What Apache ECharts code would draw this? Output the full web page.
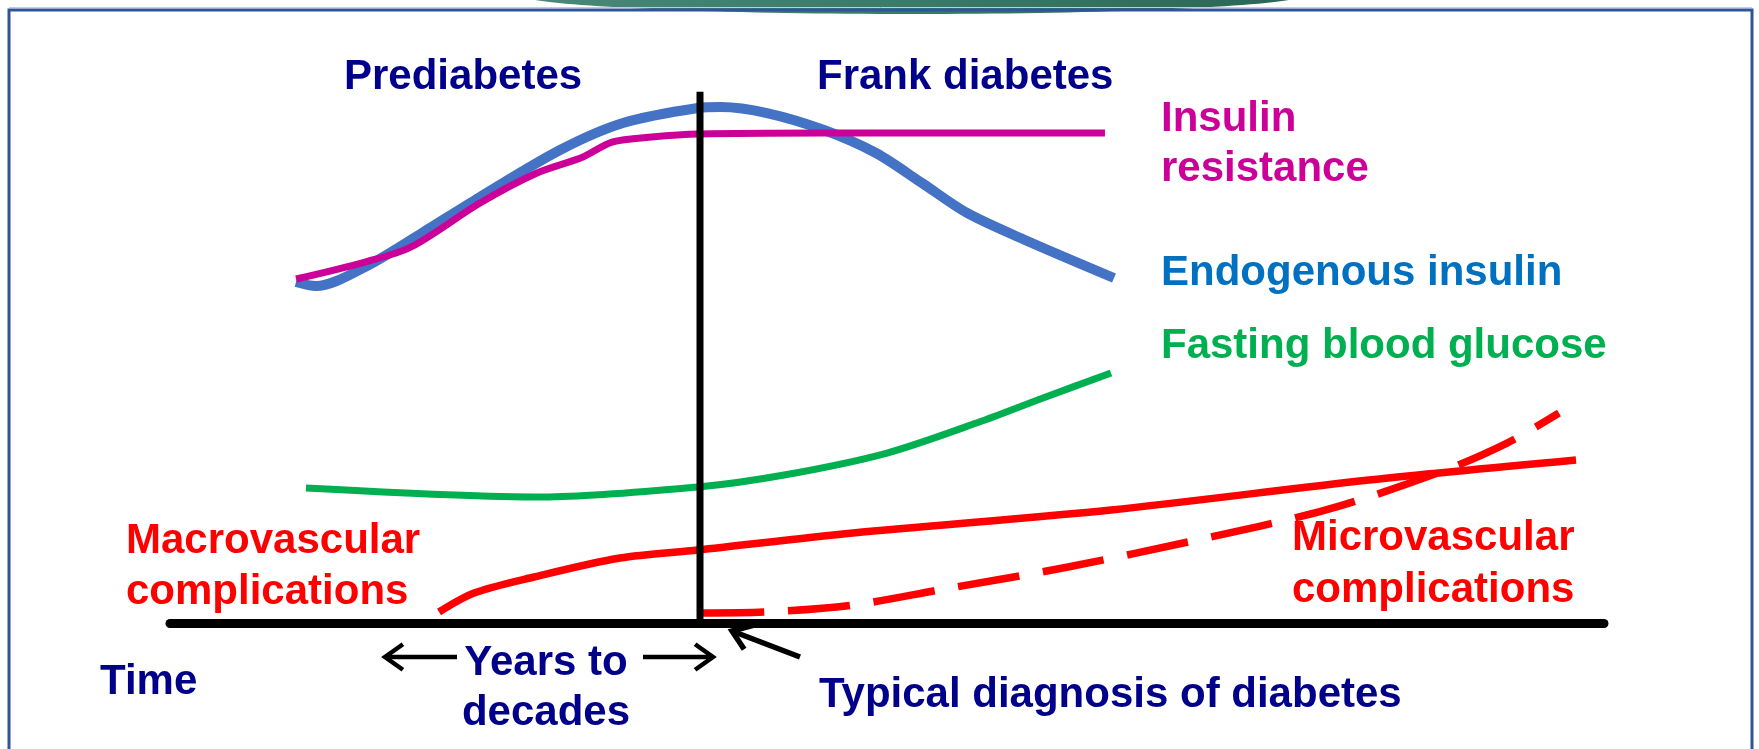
<!DOCTYPE html>
<html>
<head>
<meta charset="utf-8">
<script src="https://cdn.jsdelivr.net/npm/echarts@6/dist/echarts.min.js"></script>
<style>
  html, body { margin: 0; padding: 0; background: #fff; }
  #container { width: 1759px; height: 749px; }
</style>
</head>
<body>
<div id="container"></div>
<script>
// time runs 0..100 along the axis, level 0..100 above it (arbitrary units)
var diagnosisTime = 36.96;
var diagnosisTop = 98.4;

var endogenousInsulin = [
  [8.79, 63.15], [10.18, 62.4], [13.6, 65.93], [17.57, 72.22], [21.62, 78.89],
  [27.2, 87.59], [31.59, 92.59], [36.82, 95.37], [38.42, 95.56], [41.63, 94.44],
  [45.61, 91.3], [49.23, 87.04], [52.44, 81.48], [55.58, 75.93], [59.62, 70.93],
  [65.83, 63.89]
];
var insulinResistance = [
  [8.79, 63.7], [13.6, 66.85], [16.81, 69.63], [21.62, 77.78], [25.59, 83.33],
  [28.8, 86.3], [30.82, 89.07], [33.61, 90.0], [36.89, 90.56], [45.61, 90.74],
  [65.2, 90.74]
];
var fastingGlucose = [
  [9.48, 25.0], [26.01, 23.33], [36.82, 25.19], [42.82, 27.41], [50.0, 31.48],
  [56.62, 37.4], [60.88, 41.67], [65.62, 46.3]
];
var macrovascular = [
  [18.76, 2.04], [21.2, 5.56], [25.38, 8.52], [31.38, 12.04], [36.82, 13.52],
  [47.63, 16.67], [65.62, 20.93], [83.61, 26.48], [98.05, 30.19]
];
var microvascular = [
  [37.1, 1.85], [41.63, 2.04], [47.63, 3.33], [53.63, 6.11], [62.62, 10.37],
  [71.62, 15.37], [80.61, 20.93], [88.42, 27.78], [93.24, 33.33], [96.86, 38.89]
];

var NAVY = '#00008b';
var FONT = 'bold 42px "Liberation Sans", Arial, sans-serif';

// text label helper (left/center aligned, y = middle of the line)
function label(txt, x, y, color, align) {
  return {
    type: 'text', x: x, y: y + 5, z: 20, silent: true,
    style: {
      text: txt, fill: color, font: FONT,
      align: align || 'left', verticalAlign: 'middle',
      textAlign: align || 'left', textVerticalAlign: 'middle'
    }
  };
}
// open arrow: shaft from (x1,y1) to tip (x2,y2)
function arrow(x1, y1, x2, y2, w) {
  var a = Math.atan2(y1 - y2, x1 - x2), L = 22, s = 0.62;
  return [
    { type: 'line', z: 20, silent: true, shape: { x1: x1, y1: y1, x2: x2, y2: y2 },
      style: { stroke: '#000', lineWidth: w } },
    { type: 'polyline', z: 20, silent: true,
      shape: { points: [
        [x2 + L * Math.cos(a - s), y2 + L * Math.sin(a - s)],
        [x2, y2],
        [x2 + L * Math.cos(a + s), y2 + L * Math.sin(a + s)]
      ] },
      style: { stroke: '#000', lineWidth: w, fill: null } }
  ];
}

function lineSeries(name, data, color, width, dash) {
  return {
    name: name, type: 'line', data: data, smooth: 0.3,
    showSymbol: false, symbol: 'none', silent: true,
    lineStyle: { color: color, width: width, type: dash || 'solid', cap: 'butt' }
  };
}

var dom = document.getElementById('container');
var myChart = echarts.init(dom);

var graphics = [
  // slide decoration
  { type: 'ellipse', z: 1, silent: true, shape: { cx: 912, cy: -6, rx: 395, ry: 20 },
    style: { fill: new echarts.graphic.LinearGradient(0, 0, 1, 0, [
      { offset: 0, color: '#4a8878' }, { offset: 0.5, color: '#3a7a6a' }, { offset: 1, color: '#2b6656' }
    ]) } },
  { type: 'line', z: 2, silent: true, shape: { x1: 9, y1: 7.5, x2: 1752, y2: 7.5 },
    style: { stroke: '#c5ccd8', lineWidth: 1 } },
  { type: 'rect', z: 2, silent: true, shape: { x: 9, y: 10, width: 1743, height: 800 },
    style: { stroke: '#2f5597', lineWidth: 3, fill: null } },

  label('Prediabetes', 344, 72, NAVY),
  label('Frank diabetes', 817, 72, NAVY),
  label('Insulin', 1161, 114, '#cc0099'),
  label('resistance', 1161, 164, '#cc0099'),
  label('Endogenous insulin', 1161, 268, '#0070c0'),
  label('Fasting blood glucose', 1161, 341, '#00b050'),
  label('Macrovascular', 126, 536, '#ff0000'),
  label('complications', 126, 587, '#ff0000'),
  label('Microvascular', 1292, 533, '#ff0000'),
  label('complications', 1292, 585, '#ff0000'),
  label('Time', 100, 677, NAVY),
  label('Years to', 546, 658, NAVY, 'center'),
  label('decades', 546, 708, NAVY, 'center'),
  label('Typical diagnosis of diabetes', 819, 690, NAVY)
];
graphics = graphics
  .concat(arrow(457, 657, 385, 657, 4.5))
  .concat(arrow(643, 657, 713, 657, 4.5))
  .concat(arrow(800, 657, 732, 631, 5.5));

var option = {
  animation: false,
  backgroundColor: '#fff',
  grid: { left: 170, right: 155, top: 83, bottom: 126 },
  xAxis: {
    type: 'value', min: 0, max: 100,
    axisLine: { show: true, onZero: false, lineStyle: { color: '#000', width: 9 } },
    axisTick: { show: false }, axisLabel: { show: false }, splitLine: { show: false }
  },
  yAxis: { type: 'value', min: 0, max: 100, show: false },
  graphic: graphics,
  series: [
    lineSeries('Endogenous insulin', endogenousInsulin, '#4472c4', 10),
    lineSeries('Insulin resistance', insulinResistance, '#cc0099', 7),
    lineSeries('Fasting blood glucose', fastingGlucose, '#00b050', 7),
    lineSeries('Macrovascular complications', macrovascular, '#ff0000', 7.5),
    lineSeries('Microvascular complications', microvascular, '#ff0000', 7.5, [62, 24]),
    {
      name: 'Typical diagnosis', type: 'line', z: 5, silent: true,
      data: [[diagnosisTime, 0], [diagnosisTime, diagnosisTop]],
      showSymbol: false, symbol: 'none',
      lineStyle: { color: '#000', width: 7 }
    }
  ]
};
myChart.setOption(option, true);
</script>
</body>
</html>
